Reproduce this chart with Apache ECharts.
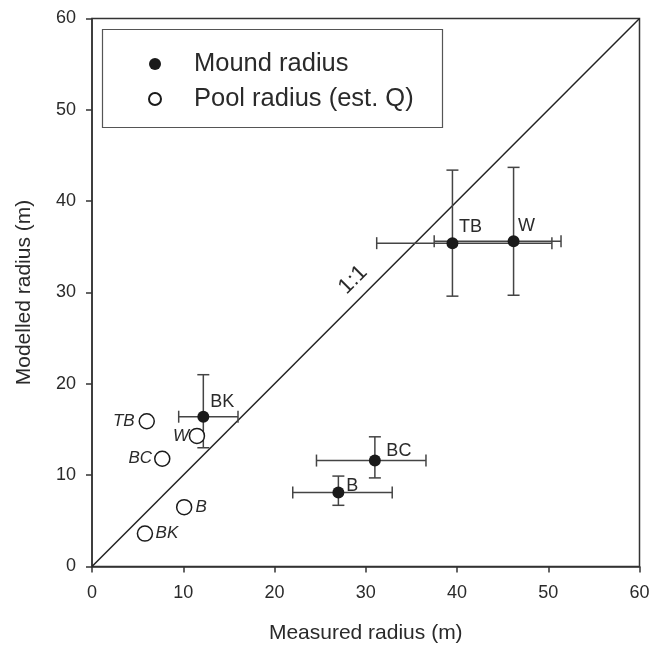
<!DOCTYPE html>
<html>
<head>
<meta charset="utf-8">
<script src="https://cdn.jsdelivr.net/npm/echarts@6/dist/echarts.min.js"></script>
<style>
  html, body { margin: 0; padding: 0; background: #fff; }
  #chart { width: 649px; height: 650px; }
</style>
</head>
<body>
<div id="chart"></div>
<script>
// site names
const moundNames = ['TB', 'W', 'BK', 'BC', 'B'];
const poolNames = ['TB', 'W', 'BC', 'B', 'BK'];

// mound radius: measured vs modelled, with error ranges
const moundX = [39.5, 46.2, 12.2, 31.0, 27.0];
const moundY = [35.4, 35.6, 16.4, 11.6, 8.1];
const moundXLow = [31.2, 37.5, 9.5, 24.6, 22.0];
const moundXHigh = [50.4, 51.4, 16.0, 36.6, 32.9];
const moundYLow = [29.6, 29.7, 13.0, 9.7, 6.7];
const moundYHigh = [43.4, 43.7, 21.0, 14.2, 9.9];

// pool radius (est. Q)
const poolX = [6.0, 11.5, 7.7, 10.1, 5.8];
const poolY = [15.9, 14.3, 11.8, 6.5, 3.6];

// 1:1 reference line
const oneToOne = [[0, 0], [60, 60]];
const axisTicks = [0, 10, 20, 30, 40, 50, 60];

const font = 'Liberation Sans, Arial, sans-serif';
const textColor = '#2a2a2a';

// label placement per point
const moundLabelPos = {
  TB: [18, -16], W: [13, -15], BK: [19, -15], BC: [24, -10], B: [14, -6],
};
const poolLabelPos = {
  TB: -23, W: -16, BC: -22, B: 17, BK: 22,
};

const chart = echarts.init(document.getElementById('chart'));

const axisCommon = {
  type: 'value',
  min: axisTicks[0],
  max: axisTicks[axisTicks.length - 1],
  interval: 10,
  nameLocation: 'middle',
  nameTextStyle: { fontFamily: font, fontSize: 21, color: textColor },
  axisLine: { show: true, onZero: false, lineStyle: { color: '#333', width: 1.5 } },
  axisTick: { show: true, inside: false, length: 6, lineStyle: { color: '#333', width: 1.5 } },
  splitLine: { show: false },
};

chart.setOption({
  animation: false,
  backgroundColor: '#fff',
  grid: {
    left: 92, right: 9.5, top: 18.5, bottom: 83.5,
    show: true, borderColor: '#333', borderWidth: 1.5,
    outerBoundsMode: 'none',
  },
  xAxis: Object.assign({}, axisCommon, {
    name: 'Measured radius (m)',
    nameGap: 56,
    position: 'bottom',
    axisLabel: { fontFamily: font, fontSize: 18, color: textColor, margin: 18 },
  }),
  yAxis: Object.assign({}, axisCommon, {
    name: 'Modelled radius (m)',
    nameGap: 57,
    position: 'left',
    axisLabel: { fontFamily: font, fontSize: 18, color: textColor, margin: 16 },
  }),
  legend: {
    orient: 'vertical',
    left: 143,
    top: 45,
    itemWidth: 12,
    itemHeight: 12,
    itemGap: 7,
    data: ['Mound radius', 'Pool radius (est. Q)'],
    textStyle: { fontFamily: font, fontSize: 25.5, color: textColor, lineHeight: 28, padding: [0, 0, 0, 28] },
  },
  graphic: [{
    type: 'rect',
    shape: { x: 102.5, y: 29.5, width: 340, height: 98 },
    style: { fill: 'none', stroke: '#555', lineWidth: 1.2 },
    silent: true,
  }],
  series: [
    {
      name: '1:1',
      type: 'line',
      data: oneToOne,
      symbol: 'none',
      lineStyle: { color: '#222', width: 1.5 },
      z: 1,
      markLine: {
        silent: true,
        symbol: 'none',
        lineStyle: { color: 'transparent', width: 1 },
        data: [[{ coord: oneToOne[0] }, { coord: oneToOne[1] }]],
        label: {
          show: true,
          formatter: '1:1',
          position: 'insideMiddleTop',
          distance: 7,
          fontFamily: font,
          fontSize: 22,
          color: textColor,
        },
      },
    },
    {
      name: 'errors',
      type: 'custom',
      z: 2,
      data: moundX.map((x, i) => [x, moundY[i], moundXLow[i], moundXHigh[i], moundYLow[i], moundYHigh[i]]),
      renderItem: function (params, api) {
        const c = api.coord([api.value(0), api.value(1)]);
        const xl = api.coord([api.value(2), api.value(1)]);
        const xh = api.coord([api.value(3), api.value(1)]);
        const yl = api.coord([api.value(0), api.value(4)]);
        const yh = api.coord([api.value(0), api.value(5)]);
        const cap = 6;
        const st = { stroke: '#444', lineWidth: 1.5 };
        const seg = (x1, y1, x2, y2) => ({ type: 'line', shape: { x1, y1, x2, y2 }, style: st });
        return {
          type: 'group',
          children: [
            seg(xl[0], c[1], xh[0], c[1]),
            seg(xl[0], c[1] - cap, xl[0], c[1] + cap),
            seg(xh[0], c[1] - cap, xh[0], c[1] + cap),
            seg(c[0], yl[1], c[0], yh[1]),
            seg(c[0] - cap, yl[1], c[0] + cap, yl[1]),
            seg(c[0] - cap, yh[1], c[0] + cap, yh[1]),
          ],
        };
      },
    },
    {
      name: 'Mound radius',
      type: 'scatter',
      z: 3,
      symbol: 'circle',
      symbolSize: 12,
      itemStyle: { color: '#1a1a1a', opacity: 1 },
      data: moundX.map((x, i) => ({
        value: [x, moundY[i]],
        name: moundNames[i],
        label: {
          show: true,
          formatter: moundNames[i],
          position: 'inside',
          offset: moundLabelPos[moundNames[i]],
          fontFamily: font,
          fontSize: 18,
          color: textColor,
        },
      })),
    },
    {
      name: 'Pool radius (est. Q)',
      type: 'scatter',
      z: 3,
      symbol: 'circle',
      symbolSize: 15,
      itemStyle: { color: '#fff', borderColor: '#1a1a1a', borderWidth: 1.5, opacity: 1 },
      data: poolX.map((x, i) => ({
        value: [x, poolY[i]],
        name: poolNames[i],
        label: {
          show: true,
          formatter: poolNames[i],
          position: 'inside',
          offset: [poolLabelPos[poolNames[i]], 0],
          fontFamily: font,
          fontStyle: 'italic',
          fontSize: 17,
          color: textColor,
        },
      })),
    },
  ],
});
</script>
</body>
</html>
